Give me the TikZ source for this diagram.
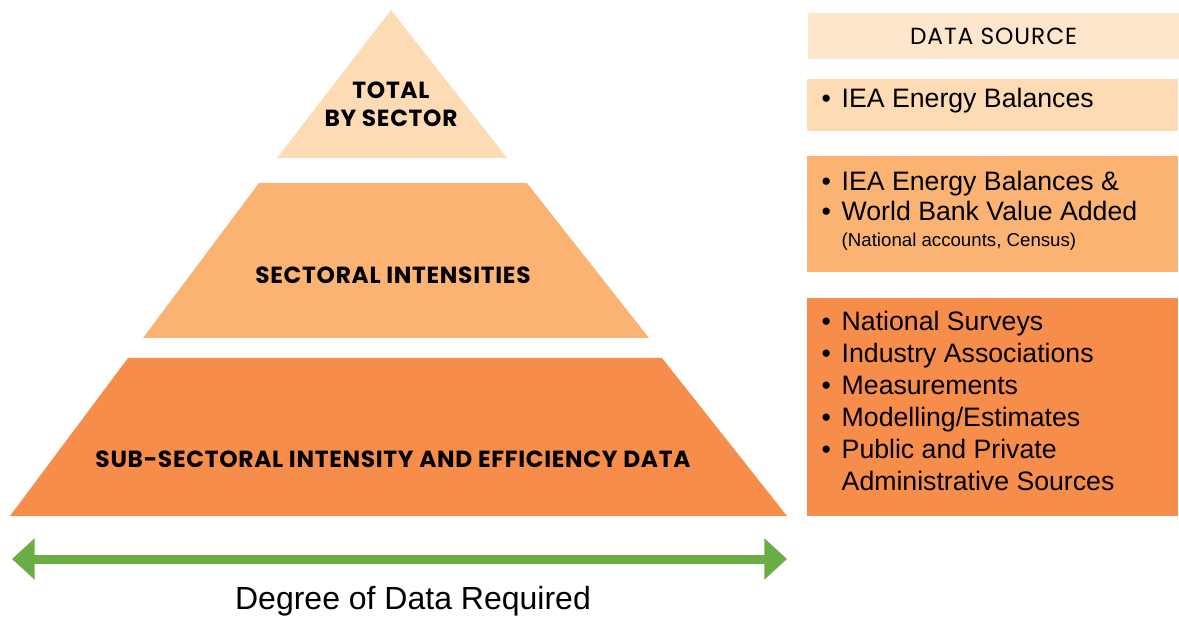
\documentclass[tikz,border=0pt]{standalone}
\usepackage{fontspec}
\setmainfont{Liberation Sans}
\newfontfamily\popfont[LetterSpace=3]{Poppins}
\newfontfamily\pophead[LetterSpace=4]{Poppins}
\usetikzlibrary{arrows.meta,positioning}
\definecolor{tierA}{HTML}{FDDCB5}
\definecolor{tierB}{HTML}{FAB373}
\definecolor{tierC}{HTML}{F68D4A}
\definecolor{headfill}{HTML}{FDE6CC}
\definecolor{arrgreen}{HTML}{6AAD45}
\newcommand{\srcbul}{\textbullet\hspace{8pt}}

\begin{document}
\begin{tikzpicture}[x=0.75pt,y=-0.75pt,>=Stealth,
   tier/.style={font=\popfont\bfseries\fontsize{17.5}{21}\selectfont,align=center},
   srcbox/.style={draw=none,anchor=north west,minimum width=278pt,inner sep=0pt},
   srctext/.style={anchor=west,align=left,font=\fontsize{20}{24}\selectfont}]
  \useasboundingbox (0,0) rectangle (1179,620);
  % pyramid
  \fill[tierA] (391,10) -- (507,158) -- (277,158) -- cycle;
  \fill[tierB] (259,183) -- (527,183) -- (649,338) -- (143,338) -- cycle;
  \fill[tierC] (128,358) -- (662,358) -- (787,516) -- (10,516) -- cycle;
  \node[tier] (total) at (391,104) {TOTAL\\BY SECTOR};
  \node[tier] (sect) at (393,275) {SECTORAL INTENSITIES};
  \node[tier] (sub) at (393,459) {SUB-SECTORAL INTENSITY AND EFFICIENCY DATA};
  % data source column
  \node[srcbox,fill=headfill,minimum height=34.5pt] (head) at (808,13) {};
  \node[font=\pophead\fontsize{17.5}{19}\selectfont] (headtxt) at (head.center) {DATA SOURCE};
  \node[srcbox,fill=tierA,minimum height=39pt] (srcA) at (807,79) {};
  \node[srcbox,fill=tierB,minimum height=87pt] (srcB) at (807,156) {};
  \node[srcbox,fill=tierC,minimum height=163.5pt] (srcC) at (807,298) {};
  \node[srctext] (txtA) at (817,101) {\srcbul IEA Energy Balances};
  \node[srctext,anchor=north west] (txtB) at (817,166)
    {\srcbul IEA Energy Balances \&\\[-1pt]\srcbul World Bank Value Added\\[-5pt]
     \phantom{\srcbul}{\fontsize{14}{15}\selectfont(National accounts, Census)}};
  \node[srctext,anchor=north west] (txtC) at (817,306)
    {\srcbul National Surveys\\\srcbul Industry Associations\\\srcbul Measurements\\
     \srcbul Modelling/Estimates\\\srcbul Public and Private\\
     \phantom{\srcbul}Administrative Sources};
  % degree arrow
  \coordinate (arrL) at (12,559);
  \coordinate (arrR) at (787,559);
  \draw[arrgreen,line width=6.75pt,{Triangle[length=17pt,width=30pt]}-{Triangle[length=17pt,width=30pt]}] (arrL) -- (arrR);
  \node[font=\fontsize{24}{28}\selectfont] (degree) at (413,601) {Degree of Data Required};
\end{tikzpicture}
\end{document}
